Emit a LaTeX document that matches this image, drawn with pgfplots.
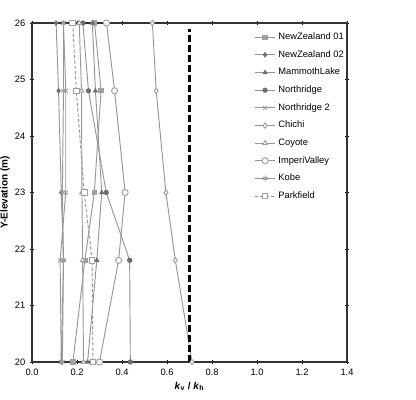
\documentclass[border=0pt]{standalone}
\usepackage{pgfplots}
\pgfplotsset{compat=1.18}
\usepackage{fontspec}
\setmainfont{Liberation Sans}
\definecolor{ln}{HTML}{969696}
\definecolor{dk}{HTML}{6E6E6E}
\definecolor{md}{HTML}{A0A0A0}
\begin{document}
\begin{tikzpicture}
\useasboundingbox (-24pt,-27.75pt) rectangle (288pt,271.5pt);
\begin{axis}[
  at={(0pt,0pt)}, anchor=south west,
  scale only axis, width=236.25pt, height=254.25pt,
  xmin=0, xmax=1.4, ymin=20, ymax=26,
  xtick={0,0.2,...,1.4}, ytick={20,21,...,26},
  xticklabel style={/pgf/number format/.cd, fixed, fixed zerofill, precision=1},
  /pgf/number format/assume math mode=true,
  tick label style={font=\fontsize{7}{8}\selectfont},
  tick align=center, major tick length=3pt,
  tick style={black, line width=0.6pt},
  axis line style={black!80, line width=0.8pt},
  xlabel={\textbf{\textit{k}\textsubscript{v} / \textit{k}\textsubscript{h}}},
  ylabel={\textbf{Y-Elevation (m)}},
  label style={font=\fontsize{7.5}{9}\selectfont},
  xlabel style={yshift=2pt},
  ylabel style={yshift=-3pt},
  every axis plot/.append style={line width=0.7pt, mark size=1.6pt},
  legend style={draw=none, fill=none, at={(0.705,0.98)}, anchor=north west,
    font=\fontsize{7}{8}\selectfont, row sep=2.7pt, inner sep=0pt},
  legend cell align=left,
  legend image code/.code={\draw[mark repeat=2,mark phase=2,#1] plot coordinates {(0cm,0cm) (0.27cm,0cm) (0.54cm,0cm)};},
]
\addplot[ln, mark=square*, mark options={solid, fill=md, draw=md}] coordinates {(0.278,26) (0.307,24.8) (0.277,23) (0.235,21.8) (0.182,20)};
\addlegendentry{NewZealand 01}
\addplot[ln, mark=diamond*, mark options={solid, fill=dk, draw=dk}] coordinates {(0.107,26) (0.118,24.8) (0.13,23) (0.14,21.8) (0.13,20)};
\addlegendentry{NewZealand 02}
\addplot[ln, mark=triangle*, mark options={solid, fill=dk, draw=dk}] coordinates {(0.268,26) (0.282,24.8) (0.31,23) (0.288,21.8) (0.247,20)};
\addlegendentry{MammothLake}
\addplot[ln, mark=*, mark options={solid, fill=dk, draw=dk}] coordinates {(0.226,26) (0.251,24.8) (0.33,23) (0.434,21.8) (0.437,20)};
\addlegendentry{Northridge}
\addplot[ln, mark=x, mark size=2.2pt, mark options={solid, draw=md}] coordinates {(0.14,26) (0.15,24.8) (0.15,23) (0.125,21.8) (0.13,20)};
\addlegendentry{Northridge 2}
\addplot[ln, mark=diamond*, mark size=2pt, mark options={solid, fill=white, draw=md}] coordinates {(0.535,26) (0.552,24.8) (0.595,23) (0.637,21.8) (0.711,20)};
\addlegendentry{Chichi}
\addplot[ln, mark=triangle*, mark size=2pt, mark options={solid, fill=white, draw=md}] coordinates {(0.21,26) (0.22,24.8) (0.222,23) (0.225,21.8) (0.229,20)};
\addlegendentry{Coyote}
\addplot[ln, mark=*, mark size=2.3pt, mark options={solid, fill=white, draw=md}] coordinates {(0.331,26) (0.367,24.8) (0.414,23) (0.385,21.8) (0.30,20)};
\addlegendentry{ImperiValley}
\addplot[ln, mark=asterisk, mark size=2.2pt, mark options={solid, draw=md}] coordinates {(0.14,26) (0.14,24.8) (0.135,23) (0.14,21.8) (0.135,20)};
\addlegendentry{Kobe}
\addplot[ln, dash pattern=on 2.5pt off 1.5pt, mark=square*, mark size=2.1pt, mark options={solid, fill=white, draw=md}] coordinates {(0.181,26) (0.197,24.8) (0.232,23) (0.267,21.8) (0.271,20)};
\addlegendentry{Parkfield}
\addplot[black, line width=1.6pt, dash pattern=on 5pt off 2.5pt, forget plot] coordinates {(0.7,20) (0.7,25.9)};
\end{axis}
\end{tikzpicture}
\end{document}
